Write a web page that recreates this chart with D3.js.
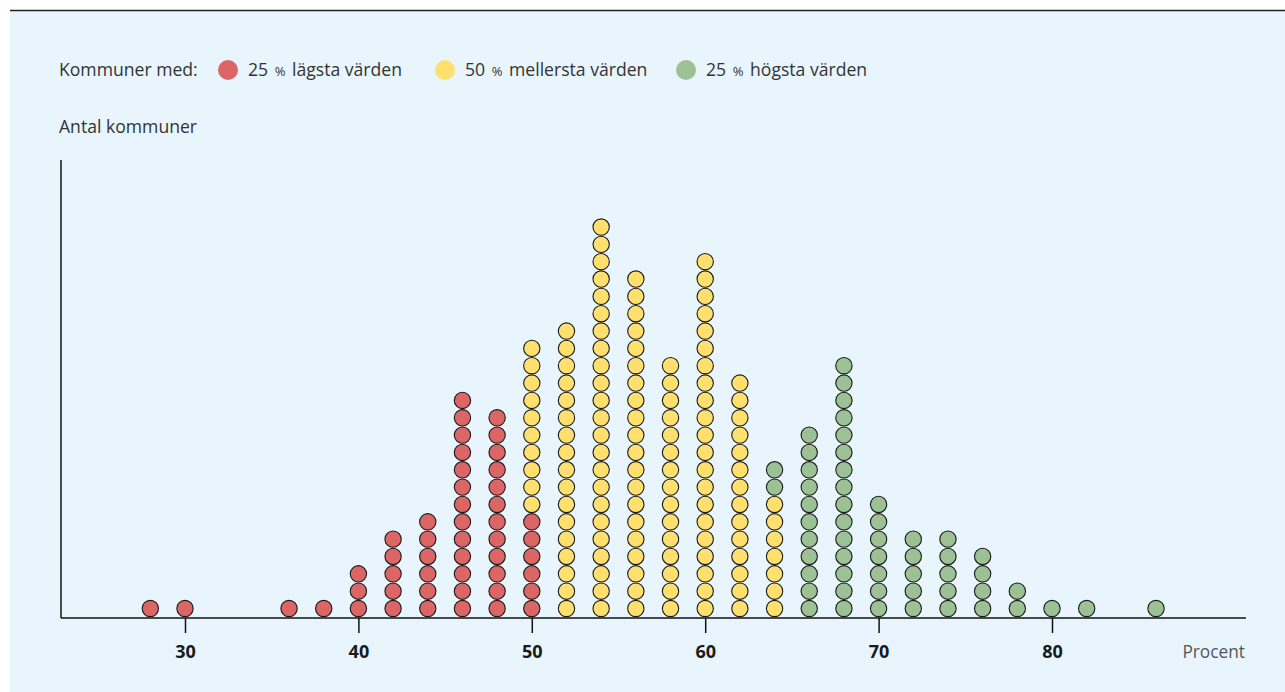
<!DOCTYPE html>
<html><head><meta charset="utf-8">
<script src="https://cdn.jsdelivr.net/npm/d3@7"></script>
<style>html,body{margin:0;padding:0;background:#fff;}svg{display:block;}</style>
</head><body>
<svg id="c" width="1285" height="692"></svg>
<script>
const values = [28,30,36,38,40,42,44,46,48,50,52,54,56,58,60,62,64,66,68,70,72,74,76,78,80,82,86];
const lowCounts  = [1,1,1,1,3,5,6,13,12,6,0,0,0,0,0,0,0,0,0,0,0,0,0,0,0,0,0];
const midCounts  = [0,0,0,0,0,0,0,0,0,10,17,23,20,15,21,14,7,0,0,0,0,0,0,0,0,0,0];
const highCounts = [0,0,0,0,0,0,0,0,0,0,0,0,0,0,0,0,2,11,15,7,5,5,4,2,1,1,1];
const xTicks = [30,40,50,60,70,80];
const groupNames = ["25 % lägsta värden","50 % mellersta värden","25 % högsta värden"];
const groupColors = ["#dc6565","#ffdf6e","#9cc195"];

const svg = d3.select("#c");
svg.append("rect").attr("x",10).attr("y",10).attr("width",1275).attr("height",682).attr("fill","#e8f5fd");
svg.append("line").attr("x1",10).attr("x2",1285).attr("y1",10.5).attr("y2",10.5).attr("stroke","#222").attr("stroke-width",1.5);

const x = d3.scaleLinear().domain([30,80]).range([185,1052]);
const unit = x(31)-x(30);
const r = unit/2;
const y = d3.scaleLinear().domain([0,1]).range([608.5,608.5-unit]);

const axisY = 618;
svg.append("line").attr("x1",61).attr("x2",1246).attr("y1",axisY).attr("y2",axisY).attr("stroke","#111").attr("stroke-width",1.5);
svg.append("line").attr("x1",61).attr("x2",61).attr("y1",160).attr("y2",axisY).attr("stroke","#111").attr("stroke-width",1.5);

const xAxis = d3.axisBottom(x).tickValues(xTicks).tickSize(15).tickPadding(12).tickFormat(d3.format("d"));
const gx = svg.append("g").attr("transform",`translate(0,${axisY})`).call(xAxis);
gx.select(".domain").remove();
gx.selectAll(".tick line").attr("stroke","#111").attr("stroke-width",1.5);
gx.selectAll(".tick text").attr("font-family","Open Sans, sans-serif").attr("font-weight","bold").attr("font-size",18).attr("fill","#1a1a1a");

const lf = "Open Sans, sans-serif";
const fs = 17.6;
svg.append("text").attr("x",1245).attr("y",658).attr("text-anchor","end")
  .attr("font-family",lf).attr("font-size",17.3).attr("fill","#555").text("Procent");

const dots = [];
values.forEach((v,i)=>{
  let k=0;
  [lowCounts[i],midCounts[i],highCounts[i]].forEach((c,g)=>{
    for(let j=0;j<c;j++){ dots.push({v, k, g}); k++; }
  });
});
svg.append("g").selectAll("circle").data(dots).join("circle")
  .attr("cx",d=>x(d.v)).attr("cy",d=>y(d.k)).attr("r",r-0.5)
  .attr("fill",d=>groupColors[d.g]).attr("stroke","#1a1a1a").attr("stroke-width",1.1);

svg.append("text").attr("x",59).attr("y",76).attr("font-family",lf).attr("font-size",fs).attr("fill","#333").text("Kommuner med:");
const legX = [228,445,686];
groupNames.forEach((n,i)=>{
  svg.append("circle").attr("cx",legX[i]).attr("cy",70).attr("r",10).attr("fill",groupColors[i]);
  const parts = n.split(" % ");
  const t = svg.append("text").attr("x",legX[i]+20).attr("y",76).attr("font-family",lf).attr("font-size",fs).attr("fill","#333");
  t.append("tspan").text(parts[0]+" ");
  t.append("tspan").attr("font-size",13).attr("dx",2).text("%");
  t.append("tspan").attr("dx",2).text(" "+parts[1]);
});
svg.append("text").attr("x",59).attr("y",133).attr("font-family",lf).attr("font-size",fs).attr("fill","#333").text("Antal kommuner");
</script>
</body></html>
